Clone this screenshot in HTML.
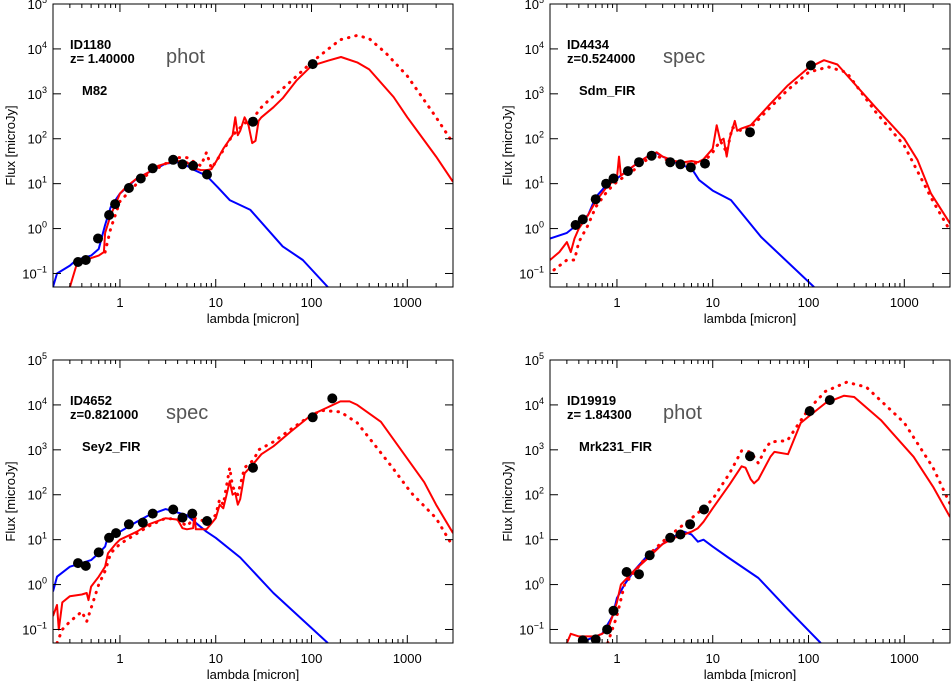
<!DOCTYPE html>
<html><head><meta charset="utf-8">
<style>
html,body{margin:0;padding:0;background:#fff;}
svg{display:block;font-family:"Liberation Sans",sans-serif;}
</style></head>
<body>
<svg id="chart" width="951" height="681" viewBox="0 0 951 681" xmlns="http://www.w3.org/2000/svg"></svg>
<script>
// ---- Panel 1: ID1180 ----
const p1Phot = [[0.365,0.18],[0.44,0.2],[0.59,0.6],[0.77,2.0],[0.89,3.5],[1.24,8],[1.65,13],[2.2,22],[3.6,34],[4.5,27],[5.8,25],[8.1,16],[24.5,240],[103,4600]];
const p1Red = [[0.3,0.05],[0.35,0.15],[0.4,0.2],[0.5,0.22],[0.6,0.25],[0.68,0.3],[0.7,0.8],[0.8,2],[0.9,3.5],[1,6],[1.2,9],[1.5,13],[2,18],[2.5,25],[3,28],[4,32],[5,30],[6,22],[7,20],[8,20],[9,21],[10,30],[12,60],[15,120],[16,300],[17,120],[18,150],[20,300],[22,200],[24,80],[26,90],[28,250],[30,300],[40,500],[50,800],[70,2000],[100,4200],[150,5500],[203,6600],[300,5000],[400,3500],[720,850],[1000,300],[2000,40],[3000,11]];
const p1RedDot = [[0.7,0.3],[0.8,1],[1,4],[1.5,10],[2,17],[3,28],[4,38],[5,38],[6,30],[7,25],[8,50],[9,22],[10,30],[15,120],[20,220],[25,300],[30,500],[40,900],[50,1300],[70,2500],[100,5000],[150,10000],[200,16000],[300,20000],[400,17000],[600,8000],[1000,2500],[2000,300],[3000,80]];
const p1Blue = [[0.2,0.05],[0.22,0.1],[0.3,0.15],[0.35,0.2],[0.5,0.25],[0.6,0.35],[0.7,1.2],[0.8,3],[1,6],[1.5,13],[2,18],[3,28],[4,30],[5,25],[6,20],[8,15],[10.5,8.3],[14,4.3],[23,2.6],[50,0.4],[81,0.2],[148,0.05]];
// ---- Panel 2: ID4434 ----
const p2Phot = [[0.37,1.2],[0.44,1.6],[0.6,4.5],[0.77,10],[0.92,13],[1.3,19],[1.7,30],[2.3,42],[3.6,30],[4.6,27],[5.9,23],[8.3,28],[24.5,140],[106,4300]];
const p2Red = [[0.2,0.2],[0.25,0.3],[0.3,0.5],[0.33,0.3],[0.36,0.6],[0.4,1],[0.5,2],[0.6,4],[0.8,9],[1,13],[1.05,40],[1.1,15],[1.5,25],[2,38],[2.6,50],[3,40],[4,32],[5,30],[6,32],[7,30],[8,35],[10,60],[11,200],[12,90],[13,100],[14,40],[15,100],[17,250],[18,150],[20,170],[25,200],[40,600],[60,1500],[100,3800],[145,5600],[200,4500],[500,500],[1000,100],[1370,34],[1900,6],[3000,1.3]];
const p2RedDot = [[0.22,0.12],[0.3,0.2],[0.36,0.2],[0.4,0.5],[0.5,1.2],[0.6,3],[0.8,7],[1,11],[1.5,20],[2,33],[2.6,42],[3,36],[4,30],[5,26],[6,28],[8,30],[10,50],[12,90],[14,50],[16,180],[20,150],[25,180],[40,500],[60,1200],[100,3000],[160,4000],[250,3000],[500,400],[1000,70],[2000,4],[3000,0.9]];
const p2Blue = [[0.2,0.6],[0.3,0.8],[0.4,1.3],[0.5,2],[0.6,5],[0.8,10],[1,13],[1.5,25],[2,38],[2.6,48],[3,40],[4,30],[5,25],[6,22],[7.2,12],[10,7],[15.5,4.3],[32,0.65],[114,0.05]];
// ---- Panel 3: ID4652 ----
const p3Phot = [[0.365,3.0],[0.44,2.6],[0.6,5.2],[0.77,11],[0.91,14],[1.24,22],[1.73,24],[2.2,38],[3.6,47],[4.5,31],[5.7,38],[8.1,26],[24.5,400],[103,5300],[165,14000]];
const p3Red = [[0.2,0.2],[0.22,0.35],[0.23,0.1],[0.25,0.4],[0.3,0.55],[0.4,0.6],[0.45,0.65],[0.47,0.45],[0.5,0.9],[0.6,1.5],[0.7,2.5],[0.75,5],[0.9,8],[1,10],[1.5,15],[2,22],[3,30],[4,28],[4.5,18],[5,17],[5.8,18],[6,38],[6.2,17],[8,17],[10,30],[11,60],[12,50],[13,100],[14,200],[15,100],[16,110],[17,60],[18,80],[20,300],[25,500],[30,800],[40,1200],[60,2500],[100,6000],[150,9000],[200,12000],[250,12000],[300,10000],[530,4200],[1500,190],[2000,60],[3000,14]];
const p3RedDot = [[0.22,0.05],[0.25,0.1],[0.3,0.15],[0.4,0.25],[0.45,0.15],[0.5,0.3],[0.6,1],[0.7,2],[0.8,5],[1,8],[2,20],[3,30],[4,28],[5,20],[6,30],[8,25],[10,35],[11,80],[12,60],[14,400],[15,150],[17,100],[20,400],[25,600],[28,1000],[40,1500],[60,2800],[100,6000],[130,7500],[200,7000],[300,4000],[500,1000],[700,400],[1100,110],[2000,30],[3000,7]];
const p3Blue = [[0.2,0.7],[0.22,1.5],[0.3,2.5],[0.4,3],[0.5,3.5],[0.6,5],[0.7,7],[0.75,12],[1,15],[1.5,25],[2,35],[3,48],[4,40],[5,35],[6,25],[8,15],[10,11],[18,4],[40,0.65],[148,0.05]];
// ---- Panel 4: ID19919 ----
const p4Phot = [[0.44,0.057],[0.6,0.06],[0.79,0.1],[0.92,0.26],[1.26,1.9],[1.7,1.7],[2.2,4.5],[3.6,11],[4.6,13],[5.8,22],[8.1,47],[24.5,720],[103,7300],[167,12800]];
const p4Red = [[0.3,0.05],[0.33,0.08],[0.4,0.07],[0.5,0.07],[0.6,0.07],[0.7,0.08],[0.8,0.1],[0.9,0.2],[1,0.4],[1.1,1],[1.5,2],[2,3.5],[3,8],[4,11],[5,13],[6,15],[7,18],[8,25],[10,50],[15,170],[20,430],[22,400],[25,220],[27,180],[30,220],[40,700],[44,900],[61,800],[83,4000],[100,5500],[150,11000],[235,16000],[300,15000],[570,4600],[1250,700],[2000,150],[3000,32]];
const p4RedDot = [[0.8,0.05],[1,0.2],[1.2,1],[2,4],[3,9],[4,15],[6,30],[8,50],[10,80],[15,300],[20,950],[25,900],[30,500],[35,1000],[40,1500],[60,1600],[80,4000],[100,8000],[150,20000],[250,32000],[400,25000],[1000,4000],[2000,400],[3000,63]];
const p4Blue = [[0.45,0.05],[0.5,0.06],[0.7,0.08],[0.9,0.2],[1,0.5],[1.2,1],[1.5,2],[2,4],[3,8],[4,12],[5,15],[6,13],[7,9],[8,10],[10,7],[14.5,4],[30,1.4],[61,0.28],[134,0.05]];

const xTickVals = [1,10,100,1000];
const xTickLabels = ["1","10","100","1000"];
const yTickExps = [-1,0,1,2,3,4,5];

const panels = [
  {name:"panel-id1180", x0:53, y0:4, id:"ID1180", z:"z= 1.40000", kind:"phot", tmpl:"M82", phot:p1Phot, red:p1Red, redDot:p1RedDot, blue:p1Blue},
  {name:"panel-id4434", x0:550, y0:4, id:"ID4434", z:"z=0.524000", kind:"spec", tmpl:"Sdm_FIR", phot:p2Phot, red:p2Red, redDot:p2RedDot, blue:p2Blue},
  {name:"panel-id4652", x0:53, y0:360, id:"ID4652", z:"z=0.821000", kind:"spec", tmpl:"Sey2_FIR", phot:p3Phot, red:p3Red, redDot:p3RedDot, blue:p3Blue},
  {name:"panel-id19919", x0:550, y0:360, id:"ID19919", z:"z= 1.84300", kind:"phot", tmpl:"Mrk231_FIR", phot:p4Phot, red:p4Red, redDot:p4RedDot, blue:p4Blue}
];
const W=400, H=283, LX0=Math.log10(0.2), LX1=Math.log10(3000), LY0=Math.log10(0.05), LY1=5;
const NS="http://www.w3.org/2000/svg";
const svg=document.getElementById('chart');
function mk(tag,attrs,parent){const e=document.createElementNS(NS,tag);for(const k in attrs)e.setAttribute(k,attrs[k]);(parent||svg).appendChild(e);return e;}

panels.forEach((p,pi)=>{
  const sx=v=>p.x0+(Math.log10(v)-LX0)/(LX1-LX0)*W;
  const sy=v=>p.y0+(LY1-Math.log10(v))/(LY1-LY0)*H;
  const g=mk('g',{});
  
  
  const cp=mk('clipPath',{id:'clip'+pi},g);
  mk('rect',{x:p.x0,y:p.y0,width:W,height:H},cp);
  const line=(arr,color,dash,nm)=>{
    const d=arr.map((pt,i)=>(i?'L':'M')+sx(pt[0]).toFixed(1)+','+sy(pt[1]).toFixed(1)).join('');
    const a={d:d,fill:'none',stroke:color,'stroke-width':2,'clip-path':'url(#clip'+pi+')','stroke-linejoin':'round'};
    if(dash){a['stroke-dasharray']='0.5 7';a['stroke-linecap']='round';a['stroke-width']=3;}
    const e=mk('path',a,g);
    
    
  };
  line(p.blue,'#0000ff',false,'stellar-model-line');
  line(p.redDot,'#ff0000',true,'alt-total-model-line');
  line(p.red,'#ff0000',false,'total-model-line');
  p.phot.forEach(pt=>{
    const c=mk('circle',{cx:sx(pt[0]).toFixed(1),cy:sy(pt[1]).toFixed(1),r:5,fill:'#000','clip-path':'url(#clip'+pi+')'},g);
    
    
  });
  const fr=mk('rect',{x:p.x0,y:p.y0,width:W,height:H,fill:'none',stroke:'#000','stroke-width':1},g);
  
  
  for(let e=-1;e<=3;e++){for(let m=1;m<10;m++){const v=m*Math.pow(10,e);if(v<0.2||v>3000)continue;const x=sx(v);const L=m===1?8:4;
    mk('line',{x1:x,y1:p.y0+H,x2:x,y2:p.y0+H-L,stroke:'#000','stroke-width':1},g);
    mk('line',{x1:x,y1:p.y0,x2:x,y2:p.y0+L,stroke:'#000','stroke-width':1},g);}}
  xTickVals.forEach((v,i)=>{const t=mk('text',{x:sx(v),y:p.y0+H+20,'text-anchor':'middle','font-size':13},g);t.textContent=xTickLabels[i];
    
    });
  yTickExps.forEach(e=>{const y=sy(Math.pow(10,e));
    mk('line',{x1:p.x0,y1:y,x2:p.x0+8,y2:y,stroke:'#000'},g);
    mk('line',{x1:p.x0+W,y1:y,x2:p.x0+W-8,y2:y,stroke:'#000'},g);
    const t=mk('text',{x:p.x0-6,y:y+5,'text-anchor':'end','font-size':13},g);
    t.innerHTML='10<tspan dy="-6" font-size="9">'+(e<0?'−1':e)+'</tspan>';
    
    });
  const xt=mk('text',{x:p.x0+W/2,y:p.y0+H+36,'text-anchor':'middle','font-size':13},g);xt.textContent='lambda [micron]';
  
  
  const yx=p.x0-38, yy=p.y0+H/2;
  const yt=mk('text',{x:yx,y:yy,'text-anchor':'middle','font-size':13,transform:'rotate(-90 '+yx+' '+yy+')'},g);yt.textContent='Flux [microJy]';
  
  
  const t1=mk('text',{x:p.x0+17,y:p.y0+45,'font-size':13,'font-weight':'bold'},g);t1.textContent=p.id;
  
  
  const t2=mk('text',{x:p.x0+17,y:p.y0+59,'font-size':13,'font-weight':'bold'},g);t2.textContent=p.z;
  
  
  const t3=mk('text',{x:p.x0+113,y:p.y0+59,'font-size':20,fill:'#555'},g);t3.textContent=p.kind;
  
  
  const t4=mk('text',{x:p.x0+29,y:p.y0+91,'font-size':13,'font-weight':'bold'},g);t4.textContent=p.tmpl;
  
  
});
</script>
</body></html>
